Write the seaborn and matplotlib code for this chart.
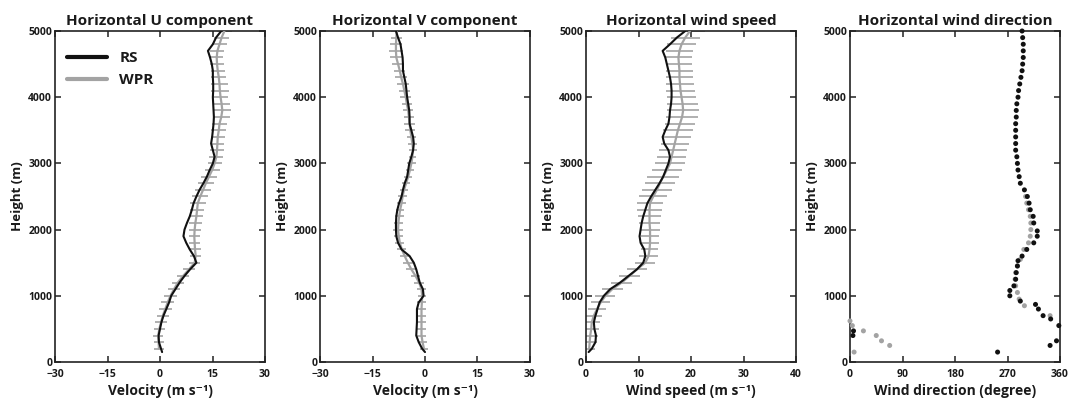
import numpy as np
import pandas as pd
import matplotlib
matplotlib.use("Agg")
import matplotlib.pyplot as plt
from matplotlib.lines import Line2D
import seaborn as sns

# ---- radiosonde (RS) profile heights (m) ----
rs_height = [150, 200, 300, 400, 500, 600, 700, 800, 900, 1000,
             1100, 1200, 1300, 1400, 1500, 1600, 1700, 1800, 1900, 2000,
             2100, 2200, 2300, 2400, 2500, 2600, 2700, 2800, 2900, 3000,
             3100, 3200, 3300, 3400, 3500, 3600, 3700, 3800, 3900, 4000,
             4100, 4200, 4300, 4400, 4500, 4600, 4700, 4800, 4900, 5000]

rs_u = [0.6, 0.3, -0.3, -0.4, 0.0, 0.4, 1.0, 1.8, 2.6, 3.2,
        4.4, 5.6, 7.0, 8.6, 10.4, 9.7, 8.5, 7.5, 6.7, 7.0,
        7.7, 8.5, 9.1, 9.6, 10.4, 11.3, 12.4, 13.4, 14.2, 15.1,
        15.6, 15.1, 14.6, 14.9, 15.1, 15.3, 15.4, 15.3, 15.2, 15.1,
        15.2, 15.2, 15.1, 15.1, 14.8, 14.3, 13.7, 15.1, 16.0, 17.5]

rs_v = [0.0, -0.8, -1.8, -2.5, -2.4, -2.3, -2.3, -2.3, -1.8, -0.4,
        -0.6, -1.5, -2.0, -2.5, -3.2, -4.4, -6.7, -7.7, -8.2, -8.3,
        -8.3, -8.2, -7.9, -7.4, -6.7, -6.3, -5.8, -5.1, -4.8, -4.5,
        -3.9, -3.4, -3.2, -3.4, -3.9, -4.4, -4.4, -4.5, -4.8, -5.1,
        -5.3, -5.5, -5.9, -6.3, -6.3, -6.4, -6.7, -7.0, -7.7, -8.3]

rs_speed = [0.5, 1.1, 1.8, 1.9, 1.6, 1.5, 1.8, 2.2, 2.6, 3.4,
            4.6, 6.5, 8.1, 9.7, 10.9, 11.3, 11.1, 10.4, 10.2, 10.4,
            10.6, 10.9, 11.3, 11.7, 12.4, 13.2, 14.0, 14.7, 15.2, 15.7,
            16.0, 15.7, 14.9, 14.6, 15.1, 15.7, 15.9, 16.0, 16.2, 16.3,
            16.3, 16.2, 16.0, 15.7, 15.4, 15.1, 14.6, 16.0, 17.3, 18.9]

# ---- wind profiler radar (WPR) profile heights (m) ----
wpr_height = [200, 300, 400, 500, 600, 700, 800, 900, 1000,
              1100, 1200, 1300, 1400, 1500, 1600, 1700, 1800, 1900, 2000,
              2100, 2200, 2300, 2400, 2500, 2600, 2700, 2800, 2900, 3000,
              3100, 3200, 3300, 3400, 3500, 3600, 3700, 3800, 3900, 4000,
              4100, 4200, 4300, 4400, 4500, 4600, 4700, 4800, 4900, 5000]

wpr_u = [-0.3, -0.4, -0.5, -0.2, 0.3, 0.8, 1.5, 2.2, 3.0,
         4.0, 5.1, 6.6, 8.3, 9.9, 10.2, 10.0, 9.9, 9.8, 9.9,
         10.1, 10.4, 10.6, 10.8, 11.5, 12.3, 13.1, 14.0, 14.9, 15.6,
         16.1, 16.3, 16.4, 16.5, 16.8, 17.0, 17.5, 17.8, 17.6, 17.3,
         17.1, 17.0, 16.8, 16.5, 16.3, 16.2, 16.4, 17.0, 17.6, 18.4]
wpr_u_err = [1.3, 1.4, 1.4, 1.5, 1.6, 1.7, 1.8, 1.8, 1.8,
             1.8, 1.8, 1.7, 1.7, 1.6, 1.6, 1.6, 1.6, 1.6, 1.7,
             1.8, 2.0, 2.1, 2.2, 2.3, 2.3, 2.3, 2.2, 2.1, 2.0,
             2.0, 1.9, 1.9, 2.0, 2.1, 2.2, 2.4, 2.5, 2.3, 2.2,
             2.5, 2.3, 2.1, 2.0, 1.9, 1.9, 2.0, 2.1, 2.2, 2.2]

wpr_v = [-0.3, -0.7, -1.0, -1.0, -1.0, -1.0, -1.0, -0.9, -0.8,
         -1.0, -1.7, -2.7, -3.9, -4.9, -5.8, -6.6, -7.2, -7.5, -7.7,
         -7.6, -7.4, -7.1, -6.7, -6.4, -6.0, -5.4, -4.8, -4.3, -3.9,
         -3.6, -3.4, -3.6, -3.9, -4.2, -4.4, -4.6, -4.8, -5.2, -5.5,
         -5.9, -6.3, -6.8, -7.2, -7.7, -8.2, -8.3, -8.3, -8.2, -8.1]
wpr_v_err = [1.2, 1.2, 1.2, 1.3, 1.3, 1.3, 1.3, 1.3, 1.2,
             1.2, 1.3, 1.4, 1.4, 1.4, 1.4, 1.3, 1.3, 1.3, 1.3,
             1.3, 1.3, 1.2, 1.2, 1.2, 1.2, 1.2, 1.2, 1.2, 1.2,
             1.1, 1.1, 1.2, 1.3, 1.4, 1.5, 1.4, 1.5, 1.5, 1.6,
             1.6, 1.6, 1.7, 1.6, 1.6, 1.8, 1.9, 1.7, 1.6, 1.6]

wpr_speed = [0.6, 0.7, 0.8, 1.0, 1.1, 1.5, 2.1, 2.8, 3.7,
             5.0, 6.8, 8.3, 9.7, 11.3, 11.9, 12.1, 12.2, 12.2, 12.2,
             12.1, 12.1, 12.1, 12.2, 12.8, 13.5, 14.1, 14.7, 15.4, 16.0,
             16.3, 16.6, 16.9, 17.2, 17.5, 17.9, 18.3, 18.5, 18.4, 18.2,
             18.0, 17.9, 17.8, 17.8, 17.7, 17.6, 17.8, 18.2, 18.9, 19.8]
wpr_speed_err = [1.2, 1.3, 1.4, 1.5, 1.5, 1.6, 1.7, 1.8, 1.9,
                 2.0, 2.0, 2.0, 1.9, 1.9, 1.8, 1.7, 1.7, 1.7, 1.8,
                 2.0, 2.2, 2.4, 2.5, 2.7, 2.8, 2.9, 3.0, 2.9, 2.8,
                 2.8, 2.7, 2.7, 2.8, 2.9, 2.9, 3.0, 3.0, 2.9, 2.8,
                 2.7, 2.6, 2.6, 2.5, 2.5, 2.5, 2.6, 2.7, 2.8, 2.8]

# ---- wind direction (degree) ----
rs_dir_height = [150, 250, 320, 400, 470, 550, 650, 700, 800, 870,
                 920, 1000, 1080, 1150, 1250, 1350, 1450, 1530, 1600, 1700,
                 1800, 1900, 1980, 2100, 2200, 2300, 2400, 2500, 2600, 2700,
                 2800, 2900, 3000, 3100, 3200, 3300, 3400, 3500, 3600, 3700,
                 3800, 3900, 4000, 4100, 4200, 4300, 4400, 4500, 4600, 4700,
                 4800, 4900, 5000]
rs_dir = [253, 343, 354, 5, 6, 358, 344, 331, 323, 318,
          292, 274, 274, 281, 284, 285, 287, 288, 295, 303,
          315, 321, 321, 315, 314, 309, 307, 304, 299, 292,
          290, 288, 287, 286, 284, 284, 284, 284, 284, 285,
          285, 286, 288, 289, 291, 293, 295, 296, 297, 297,
          297, 296, 295]

wpr_dir_height = [150, 250, 320, 400, 470, 550, 620, 700, 850, 950,
                  1050, 1150, 1250, 1350, 1450, 1550, 1700, 1800, 1900, 2000,
                  2100, 2200, 2300, 2400, 2500]
wpr_dir = [7, 68, 54, 45, 23, 4, 0, 343, 299, 290,
           287, 284, 283, 284, 287, 292, 298, 306, 309, 310,
           310, 309, 306, 303, 301]

RS_COLOR = "#111111"
WPR_COLOR = "#a3a3a3"
TEXT_COLOR = "#1a1a1a"

sns.set_style("ticks")
plt.rcParams["font.family"] = ["Open Sans", "DejaVu Sans"]
plt.rcParams["font.weight"] = "bold"
plt.rcParams["axes.labelweight"] = "bold"
plt.rcParams["axes.titleweight"] = "bold"
plt.rcParams["axes.linewidth"] = 1.2
plt.rcParams["text.color"] = TEXT_COLOR
plt.rcParams["axes.labelcolor"] = TEXT_COLOR

fig = plt.figure(figsize=(10.7, 4.07), dpi=100)
lefts = [55, 320, 586, 850]
axes = [fig.add_axes([l / 1070, 1 - 362 / 407, 210 / 1070, 331 / 407]) for l in lefts]

rs = pd.DataFrame({"height": rs_height, "u": rs_u, "v": rs_v, "speed": rs_speed})
wpr = pd.DataFrame({"height": wpr_height, "u": wpr_u, "v": wpr_v, "speed": wpr_speed,
                    "u_err": wpr_u_err, "v_err": wpr_v_err, "speed_err": wpr_speed_err})

profiles = [("u", "Horizontal U component", "Velocity (m s\u207b\u00b9)", (-30, 30), [-30, -15, 0, 15, 30]),
            ("v", "Horizontal V component", "Velocity (m s\u207b\u00b9)", (-30, 30), [-30, -15, 0, 15, 30]),
            ("speed", "Horizontal wind speed", "Wind speed (m s\u207b\u00b9)", (0, 40), [0, 10, 20, 30, 40])]

for ax, (col, title, xlabel, xlim, xticks) in zip(axes[:3], profiles):
    ax.errorbar(wpr[col], wpr["height"], xerr=wpr[col + "_err"], fmt="none",
                ecolor=WPR_COLOR, elinewidth=1.2, capsize=0, zorder=2)
    sns.lineplot(data=wpr, x=col, y="height", orient="y", sort=False, estimator=None,
                 color=WPR_COLOR, linewidth=1.6, ax=ax, zorder=3)
    sns.lineplot(data=rs, x=col, y="height", orient="y", sort=False, estimator=None,
                 color=RS_COLOR, linewidth=1.5, ax=ax, zorder=4)
    ax.set_xlim(*xlim)
    ax.set_xticks(xticks)
    ax.set_title(title, fontsize=11, fontweight="bold", pad=4)
    ax.set_xlabel(xlabel, fontsize=10, fontweight="bold", labelpad=3)

# wind direction panel
ax = axes[3]
sns.scatterplot(x=wpr_dir, y=wpr_dir_height, color=WPR_COLOR, s=13, edgecolor="none",
                ax=ax, zorder=3, clip_on=False)
sns.scatterplot(x=rs_dir, y=rs_dir_height, color=RS_COLOR, s=13, edgecolor="none",
                ax=ax, zorder=4, clip_on=False)
ax.set_xlim(0, 360)
ax.set_xticks([0, 90, 180, 270, 360])
ax.set_title("Horizontal wind direction", fontsize=11, fontweight="bold", pad=4)
ax.set_xlabel("Wind direction (degree)", fontsize=10, fontweight="bold", labelpad=3)

for ax in axes:
    ax.set_ylim(0, 5000)
    ax.set_yticks([0, 1000, 2000, 3000, 4000, 5000])
    ax.set_ylabel("Height (m)", fontsize=9.5, fontweight="bold", labelpad=3)
    ax.tick_params(direction="in", top=True, right=True, length=4, width=1.1,
                   labelsize=7.5, colors="#222222")
    ax.tick_params(axis="x", pad=5)
    ax.tick_params(axis="y", pad=2)
    for lab in ax.get_xticklabels() + ax.get_yticklabels():
        lab.set_fontweight("bold")
        lab.set_color(TEXT_COLOR)
    for sp in ax.spines.values():
        sp.set_color("#222222")

handles = [Line2D([], [], color=RS_COLOR, linewidth=3),
           Line2D([], [], color=WPR_COLOR, linewidth=3)]
axes[0].legend(handles, ["RS", "WPR"], loc="upper left", bbox_to_anchor=(0.0, 0.975),
               frameon=False, prop={"weight": "bold", "size": 11}, handlelength=2.6,
               borderaxespad=0.4, labelspacing=0.5, labelcolor=TEXT_COLOR)

fig.savefig("out.png", dpi=100)
